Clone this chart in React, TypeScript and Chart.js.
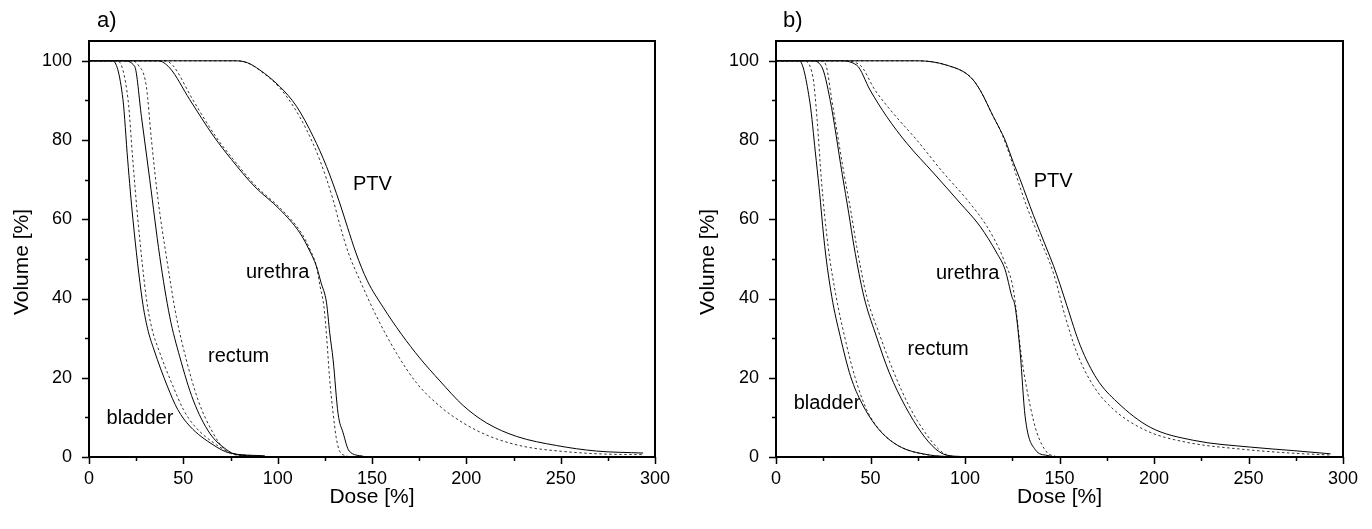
import React, { useEffect, useRef } from 'react';
import { Chart, registerables } from 'chart.js';

Chart.register(...registerables);

type Pt = [number, number];

// ---- axis ticks ----
const X_MAJOR_TICKS = [0, 50, 100, 150, 200, 250, 300];
const X_ALL_TICKS = [0, 25, 50, 75, 100, 125, 150, 175, 200, 225, 250, 275, 300];
const Y_MAJOR_TICKS = [0, 20, 40, 60, 80, 100];
const Y_ALL_TICKS = [0, 10, 20, 30, 40, 50, 60, 70, 80, 90, 100];

// ---- panel a) series: [dose %, volume %] ----
const A_PTV_SOLID: Pt[] = [[0, 100], [78, 100], [84, 99.5], [90.5, 97.7], [101.1, 93.5], [110, 88.5], [118.8, 80.9], [125.9, 73.3], [132.9, 64.1], [137, 58], [141.5, 51.5], [147.5, 44.5], [155.9, 37.8], [165.6, 31], [175.3, 25], [186, 19.2], [198.3, 13], [210.7, 8.6], [226.6, 5.2], [247.8, 2.9], [269, 1.5], [293.7, 1.0]];
const A_PTV_DASHED: Pt[] = [[0, 100], [78, 100], [84, 99.5], [90.5, 97.6], [101, 93.2], [109, 88], [115.3, 82.6], [122.3, 75], [129.4, 64.9], [133, 58.5], [137.5, 51.5], [143.5, 44.7], [152.4, 35.5], [163, 26.2], [173.6, 18.7], [186, 12.8], [198.3, 8.6], [212.5, 5.2], [230.1, 2.7], [251.3, 1.4], [272.5, 0.75], [293.7, 0.6]];
const A_URETHRA_SOLID: Pt[] = [[0, 100], [36.6, 100], [42.8, 98.2], [53.4, 90.2], [66, 81], [75.5, 75.1], [87.5, 68.4], [101.1, 62.5], [111.7, 56.6], [117, 52], [120.5, 48.2], [123, 44], [125.9, 38.9], [127.6, 31.3], [129.4, 24.5], [132, 11], [134.7, 6.1], [137.9, 1.5], [145.3, 0.2]];
const A_URETHRA_DASHED: Pt[] = [[0, 100], [40, 100], [44.5, 98.8], [55, 90.2], [67, 81], [76.5, 75.1], [88.5, 68.4], [102, 62.5], [112.5, 56.6], [117.5, 52], [120.5, 48.2], [122.5, 43], [124.5, 38], [126, 30], [127.5, 20], [129.4, 11], [131, 5], [132.9, 1.4], [137, 0.2]];
const A_BLADDER_SOLID: Pt[] = [[0, 100], [12.5, 100], [18, 90.2], [20.5, 75], [23.3, 59.9], [28.2, 39.7], [31, 32.5], [34.5, 27], [41.5, 17.9], [47, 12], [53.4, 7.8], [65.7, 3.1], [74.6, 1.0], [93.2, 0.3]];
const A_BLADDER_DASHED: Pt[] = [[0, 100], [15, 100], [20.7, 90.2], [23.2, 75], [25.9, 59.9], [30.5, 39.7], [33.3, 32.5], [37, 27], [44.5, 17.9], [50, 12], [56, 7.8], [67.5, 3.1], [75.5, 1.0], [87, 0.3]];
const A_RECTUM_SOLID: Pt[] = [[0, 100], [18, 100], [24.2, 98.6], [27.8, 85.9], [32.2, 70], [37.5, 50.6], [42.8, 35.4], [48.1, 25.3], [55.2, 14.4], [64, 6], [72.8, 1.9], [78.1, 0.6], [92, 0.2]];
const A_RECTUM_DASHED: Pt[] = [[0, 100], [22, 100], [26, 99], [30.4, 93.5], [33.1, 80], [36.6, 64.9], [41, 50.6], [46.3, 35.4], [51.6, 24.5], [57.8, 14.4], [65.8, 6], [71.9, 1.9], [77.3, 0.6], [88, 0.2]];

// ---- panel b) series ----
const B_PTV_SOLID: Pt[] = [[0, 100], [75.3, 100], [90.3, 98.9], [102.7, 96], [108, 92.6], [115, 85.9], [118.6, 82.6], [121.2, 80], [125.6, 74.3], [129.2, 70], [132.7, 65.5], [136.2, 61], [139.8, 56.7], [143.3, 52.5], [146.8, 48.3], [150.3, 43.5], [153.9, 38.2], [161, 28.1], [169.8, 19.7], [180.4, 13.9], [198, 7.5], [221, 4.2], [251, 2.5], [274, 1.6], [293.4, 0.8]];
const B_PTV_DASHED: Pt[] = [[0, 100], [75.3, 100], [90.3, 98.9], [102.7, 96], [108, 92.6], [115, 85.9], [118.6, 82.6], [121.2, 79.5], [125.6, 73.4], [129.2, 68], [132.7, 63.2], [136.2, 59], [139.8, 54.8], [146.8, 46.4], [153, 35.5], [159.2, 26.3], [168, 17.9], [178.6, 12], [196.2, 6.6], [217.4, 3.7], [245.7, 2], [272.2, 1], [293.4, 0.5]];
const B_URETHRA_SOLID: Pt[] = [[0, 100], [33, 100], [42.7, 98.9], [49.8, 92.6], [58.6, 85.9], [69.2, 79.2], [83.3, 71.7], [97.4, 64.1], [108, 58.2], [116.8, 51.5], [121.2, 47.3], [124.8, 40.5], [126.5, 38], [129.2, 26.3], [131.8, 10.3], [137.1, 1.9], [143.3, 0.4], [148.6, 0]];
const B_URETHRA_DASHED: Pt[] = [[0, 100], [35.6, 100], [44.5, 98.9], [52.4, 92.6], [62.1, 86.7], [74.5, 80], [88.6, 71.7], [101, 65], [111.6, 58.2], [118.6, 52], [120.5, 49.8], [125.6, 42.2], [130.1, 24.6], [134.5, 12.9], [138, 6.2], [143.3, 1.2], [147.7, 0.2]];
const B_BLADDER_SOLID: Pt[] = [[0, 100], [12.3, 100], [18, 89.3], [20.8, 77], [22.8, 68], [25.8, 53.1], [29.5, 40.5], [34, 30.4], [39.5, 20.3], [45.4, 13.6], [54, 7.2], [64.5, 2.9], [80, 0.6], [95, 0]];
const B_BLADDER_DASHED: Pt[] = [[0, 100], [14.5, 100], [19.5, 96], [21.8, 85], [24, 70], [27.6, 53.1], [31.8, 40.5], [36.3, 30.4], [41.7, 20.3], [48, 11.9], [56, 6.2], [66.5, 2.4], [82, 0.4], [95, 0]];
const B_RECTUM_SOLID: Pt[] = [[0, 100], [18.9, 100], [24.2, 98.5], [28.6, 90.2], [35, 71.5], [38.5, 61.5], [41.3, 53.1], [46.5, 40.5], [52.5, 31.3], [60, 21.2], [68.4, 12.8], [77, 6.1], [84.5, 2], [90, 0.5], [99.2, 0.1]];
const B_RECTUM_DASHED: Pt[] = [[0, 100], [24, 100], [26.5, 98.8], [29.5, 90.2], [36, 71.5], [39.8, 61.5], [42.7, 53.1], [48, 40.5], [54.5, 31.3], [62.5, 21.2], [70.5, 12.8], [79, 6.1], [86, 2], [90.5, 0.5], [95, 0.1]];

// ---- curve labels: [text, dose, volume] ----
const A_LABELS: [string, number, number][] = [['PTV', 150.2, 68.7], ['urethra', 100, 46.6], ['rectum', 79.3, 25.4], ['bladder', 27, 9.8]];
const B_LABELS: [string, number, number][] = [['PTV', 146.6, 69.5], ['urethra', 101.4, 46.2], ['rectum', 85.8, 27.1], ['bladder', 27, 13.4]];

const FONT = '"Liberation Sans", Arial, Helvetica, sans-serif';

const decorPlugin = {
  id: 'decor',
  afterDraw(chart: any, _args: any, opts: any) {
    const { ctx, chartArea } = chart;
    const { left, right, top, bottom } = chartArea;
    const x = chart.scales.x;
    const y = chart.scales.y;
    ctx.save();
    ctx.strokeStyle = '#000';
    ctx.lineWidth = 1.5;
    ctx.beginPath();
    for (const v of X_ALL_TICKS) {
      const px = Math.round(x.getPixelForValue(v)) + 0.5;
      const len = X_MAJOR_TICKS.includes(v) ? 7 : 4;
      ctx.moveTo(px, bottom);
      ctx.lineTo(px, bottom + len);
    }
    for (const v of Y_ALL_TICKS) {
      const py = Math.round(y.getPixelForValue(v)) + 0.5;
      const len = Y_MAJOR_TICKS.includes(v) ? 7 : 4;
      ctx.moveTo(left, py);
      ctx.lineTo(left - len, py);
    }
    ctx.stroke();
    // frame
    ctx.lineWidth = 2;
    ctx.strokeRect(left, top, right - left, bottom - top);
    // curve labels
    ctx.fillStyle = '#000';
    ctx.font = `20px ${FONT}`;
    ctx.textAlign = 'center';
    ctx.textBaseline = 'middle';
    for (const [t, d, v] of opts.labels as [string, number, number][]) {
      ctx.fillText(t, x.getPixelForValue(d), y.getPixelForValue(v));
    }
    // panel title
    ctx.font = `22px ${FONT}`;
    ctx.textAlign = 'left';
    ctx.fillText(opts.title, opts.titleX, 21);
    // axis titles
    ctx.font = `21px ${FONT}`;
    ctx.textAlign = 'center';
    ctx.fillText('Dose [%]', (left + right) / 2, 497);
    ctx.translate(22, 262);
    ctx.rotate(-Math.PI / 2);
    ctx.fillText('Volume [%]', 0, 0);
    ctx.restore();
  },
};

function makeSet(pts: Pt[], dashed: boolean) {
  return {
    data: pts.map(([d, v]) => ({ x: d, y: v })),
    borderColor: dashed ? '#333' : '#000',
    borderWidth: 1,
    borderDash: dashed ? [2.5, 2.5] : [],
    pointRadius: 0,
    fill: false,
    cubicInterpolationMode: 'monotone' as const,
  };
}

interface PanelProps {
  title: string;
  plotLeft: number;
  plotRight: number;
  series: [Pt[], boolean][];
  labels: [string, number, number][];
}

function Panel({ title, plotLeft, plotRight, series, labels }: PanelProps) {
  const ref = useRef<HTMLCanvasElement>(null);
  useEffect(() => {
    if (!ref.current) return;
    const tickFont = { family: FONT, size: 18 };
    const chart = new Chart(ref.current, {
      type: 'line',
      data: { datasets: series.map(([p, d]) => makeSet(p, d)) as any },
      options: {
        responsive: false,
        animation: false,
        events: [],
        layout: { padding: { top: 41, right: 686 - plotRight, left: 0, bottom: 0 } },
        plugins: {
          legend: { display: false },
          tooltip: { enabled: false },
          decor: { labels, title, titleX: 97 },
        } as any,
        scales: {
          x: {
            type: 'linear',
            min: 0,
            max: 300,
            ticks: { stepSize: 50, font: tickFont, color: '#000', padding: 4, maxRotation: 0, autoSkip: false },
            grid: { drawOnChartArea: false, color: 'rgba(0,0,0,0)', tickLength: 7 },
            border: { display: false },
            afterFit: (s: any) => { s.height = 72; },
          },
          y: {
            type: 'linear',
            min: 0,
            max: 105,
            ticks: { stepSize: 20, includeBounds: false, font: tickFont, color: '#000', padding: 10 } as any,
            grid: { drawOnChartArea: false, color: 'rgba(0,0,0,0)', tickLength: 7 },
            border: { display: false },
            afterFit: (s: any) => { s.width = plotLeft; },
          },
        },
      },
      plugins: [decorPlugin],
    });
    return () => chart.destroy();
  }, []);
  return <canvas ref={ref} width={686} height={529} style={{ display: 'block', width: 686, height: 529 }} />;
}

export default function App() {
  return (
    <div style={{ position: 'absolute', left: 0, top: 0, width: 1372, height: 529, display: 'flex', background: '#fff' }}>
      <Panel
        title="a)"
        plotLeft={89}
        plotRight={655}
        labels={A_LABELS}
        series={[
          [A_PTV_SOLID, false], [A_PTV_DASHED, true],
          [A_URETHRA_SOLID, false], [A_URETHRA_DASHED, true],
          [A_RECTUM_SOLID, false], [A_RECTUM_DASHED, true],
          [A_BLADDER_SOLID, false], [A_BLADDER_DASHED, true],
        ]}
      />
      <Panel
        title="b)"
        plotLeft={90}
        plotRight={657}
        labels={B_LABELS}
        series={[
          [B_PTV_SOLID, false], [B_PTV_DASHED, true],
          [B_URETHRA_SOLID, false], [B_URETHRA_DASHED, true],
          [B_RECTUM_SOLID, false], [B_RECTUM_DASHED, true],
          [B_BLADDER_SOLID, false], [B_BLADDER_DASHED, true],
        ]}
      />
    </div>
  );
}
